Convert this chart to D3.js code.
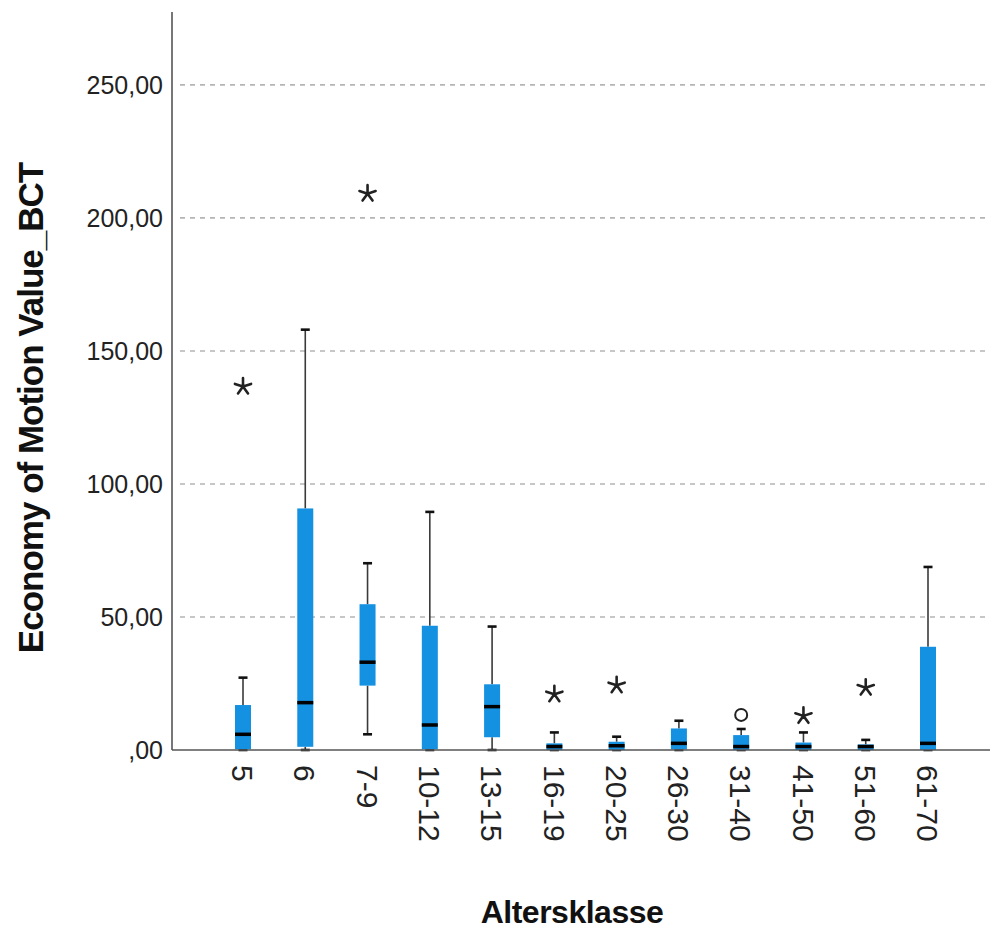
<!DOCTYPE html>
<html>
<head>
<meta charset="utf-8">
<script src="https://cdn.jsdelivr.net/npm/d3@7"></script>
<style>
  html, body { margin: 0; padding: 0; background: #fff; }
  svg { display: block; }
</style>
</head>
<body>
<svg id="chart" width="995" height="930"></svg>
<script>
// Age classes and the five-number summaries of Economy of Motion Value_BCT
const categories = ["5", "6", "7-9", "10-12", "13-15", "16-19", "20-25", "26-30", "31-40", "41-50", "51-60", "61-70"];
const whiskerLow  = [0,    0,    5.9,  0,    0,    0,   0,   0,    0,   0,   0,   0];
const q1          = [0.3,  1.2,  24.2, 0.3,  4.8,  0,   0,   0.2,  0,   0,   0,   0];
const medians     = [5.9,  17.8, 33.0, 9.4,  16.3, 1.3, 1.6, 2.5,  1.3, 1.3, 1.3, 2.5];
const q3          = [16.9, 90.8, 54.8, 46.7, 24.7, 2.5, 3.1, 8.1,  5.6, 2.8, 2.1, 38.8];
const whiskerHigh = [27.2, 158,  70.2, 89.5, 46.4, 6.6, 5.0, 11.0, 7.9, 6.6, 3.8, 68.8];

// Extreme values (asterisks) and outliers (circles)
const extremeCats   = ["5", "7-9", "16-19", "20-25", "41-50", "51-60"];
const extremeValues = [137, 209.5, 21.3,    24.7,    13.2,    23.8];
const outlierCats   = ["31-40"];
const outlierValues = [13.2];

const yTicks = [0, 50, 100, 150, 200, 250];
const yTickLabels = [",00", "50,00", "100,00", "150,00", "200,00", "250,00"];

const svg = d3.select("#chart");
const axisX = 172, baseY = 750, topY = 12, rightX = 990;

const y = d3.scaleLinear().domain([0, 277.4]).range([baseY, topY]);
const x = d3.scalePoint().domain(categories).range([243, 928]);

const boxW = 16, capW = 9;
const blue = "#1591e2";

// dashed reference lines
svg.append("g").selectAll("line").data(yTicks.filter(d => d > 0)).join("line")
  .attr("x1", axisX + 8).attr("x2", rightX)
  .attr("y1", d => y(d)).attr("y2", d => y(d))
  .attr("stroke", "#b5b5b5").attr("stroke-width", 1.6)
  .attr("stroke-dasharray", "5,5");

// y tick labels
svg.append("g").selectAll("text").data(yTicks).join("text")
  .attr("x", 163).attr("y", d => y(d))
  .attr("dy", "0.36em")
  .attr("text-anchor", "end")
  .attr("font-family", "Liberation Sans, Arial, sans-serif")
  .attr("font-size", 25).attr("fill", "#222")
  .text((d, i) => yTickLabels[i]);

const rows = categories.map((c, i) => ({
  c, lo: whiskerLow[i], q1: q1[i], med: medians[i], q3: q3[i], hi: whiskerHigh[i]
}));

const g = svg.append("g");
// whisker stems
g.selectAll("line.stem-hi").data(rows).join("line").attr("class", "stem-hi")
  .attr("x1", d => x(d.c)).attr("x2", d => x(d.c))
  .attr("y1", d => y(d.q3)).attr("y2", d => y(d.hi))
  .attr("stroke", "#3a3a3a").attr("stroke-width", 1.6);
g.selectAll("line.stem-lo").data(rows).join("line").attr("class", "stem-lo")
  .attr("x1", d => x(d.c)).attr("x2", d => x(d.c))
  .attr("y1", d => y(d.q1)).attr("y2", d => y(d.lo))
  .attr("stroke", "#3a3a3a").attr("stroke-width", 1.6);
// whisker caps
g.selectAll("line.cap-hi").data(rows).join("line").attr("class", "cap-hi")
  .attr("x1", d => x(d.c) - capW / 2).attr("x2", d => x(d.c) + capW / 2)
  .attr("y1", d => y(d.hi)).attr("y2", d => y(d.hi))
  .attr("stroke", "#111").attr("stroke-width", 2.6);
g.selectAll("line.cap-lo").data(rows).join("line").attr("class", "cap-lo")
  .attr("x1", d => x(d.c) - capW / 2).attr("x2", d => x(d.c) + capW / 2)
  .attr("y1", d => y(d.lo)).attr("y2", d => y(d.lo))
  .attr("stroke", "#111").attr("stroke-width", 2.6);
// boxes
g.selectAll("rect.box").data(rows).join("rect").attr("class", "box")
  .attr("x", d => x(d.c) - boxW / 2).attr("width", boxW)
  .attr("y", d => y(d.q3)).attr("height", d => Math.max(1, y(d.q1) - y(d.q3)))
  .attr("fill", blue);
// medians
g.selectAll("line.med").data(rows).join("line").attr("class", "med")
  .attr("x1", d => x(d.c) - boxW / 2).attr("x2", d => x(d.c) + boxW / 2)
  .attr("y1", d => y(d.med)).attr("y2", d => y(d.med))
  .attr("stroke", "#000").attr("stroke-width", 3.5);

// asterisks for extreme values (five arms)
const starR = 8.5;
const starPath = d3.range(5).map(k => {
  const a = -Math.PI / 2 + k * 2 * Math.PI / 5;
  return `M0,0L${(starR * Math.cos(a)).toFixed(2)},${(starR * Math.sin(a)).toFixed(2)}`;
}).join("");
g.selectAll("path.ext").data(extremeCats.map((c, i) => ({ c, v: extremeValues[i] }))).join("path")
  .attr("class", "ext")
  .attr("transform", d => `translate(${x(d.c)},${y(d.v) + 1})`)
  .attr("d", starPath)
  .attr("stroke", "#222").attr("stroke-width", 2.6).attr("stroke-linecap", "round")
  .attr("fill", "none");
// circles for outliers
g.selectAll("circle.out").data(outlierCats.map((c, i) => ({ c, v: outlierValues[i] }))).join("circle")
  .attr("class", "out")
  .attr("cx", d => x(d.c)).attr("cy", d => y(d.v))
  .attr("r", 6).attr("fill", "none").attr("stroke", "#222").attr("stroke-width", 2);

// axes
svg.append("line").attr("x1", axisX).attr("x2", axisX).attr("y1", topY).attr("y2", baseY)
  .attr("stroke", "#555").attr("stroke-width", 1.6);
svg.append("line").attr("x1", axisX).attr("x2", rightX).attr("y1", baseY).attr("y2", baseY)
  .attr("stroke", "#555").attr("stroke-width", 1.6);

// x category labels, rotated to read downwards
svg.append("g").selectAll("text").data(categories).join("text")
  .attr("transform", d => `translate(${x(d)},765) rotate(90)`)
  .attr("dy", "0.36em")
  .attr("text-anchor", "start")
  .attr("font-family", "Liberation Sans, Arial, sans-serif")
  .attr("font-size", 30).attr("fill", "#222")
  .text(d => d);

// axis titles
svg.append("text")
  .attr("transform", "translate(43,408) rotate(-90)")
  .attr("text-anchor", "middle")
  .attr("font-family", "Liberation Sans, Arial, sans-serif")
  .attr("font-weight", "bold").attr("font-size", 35)
  .attr("letter-spacing", -1).attr("fill", "#111")
  .text("Economy of Motion Value_BCT");

svg.append("text")
  .attr("x", 572).attr("y", 923)
  .attr("text-anchor", "middle")
  .attr("font-family", "Liberation Sans, Arial, sans-serif")
  .attr("font-weight", "bold").attr("font-size", 32)
  .attr("letter-spacing", -0.5).attr("fill", "#111")
  .text("Altersklasse");
</script>
</body>
</html>
